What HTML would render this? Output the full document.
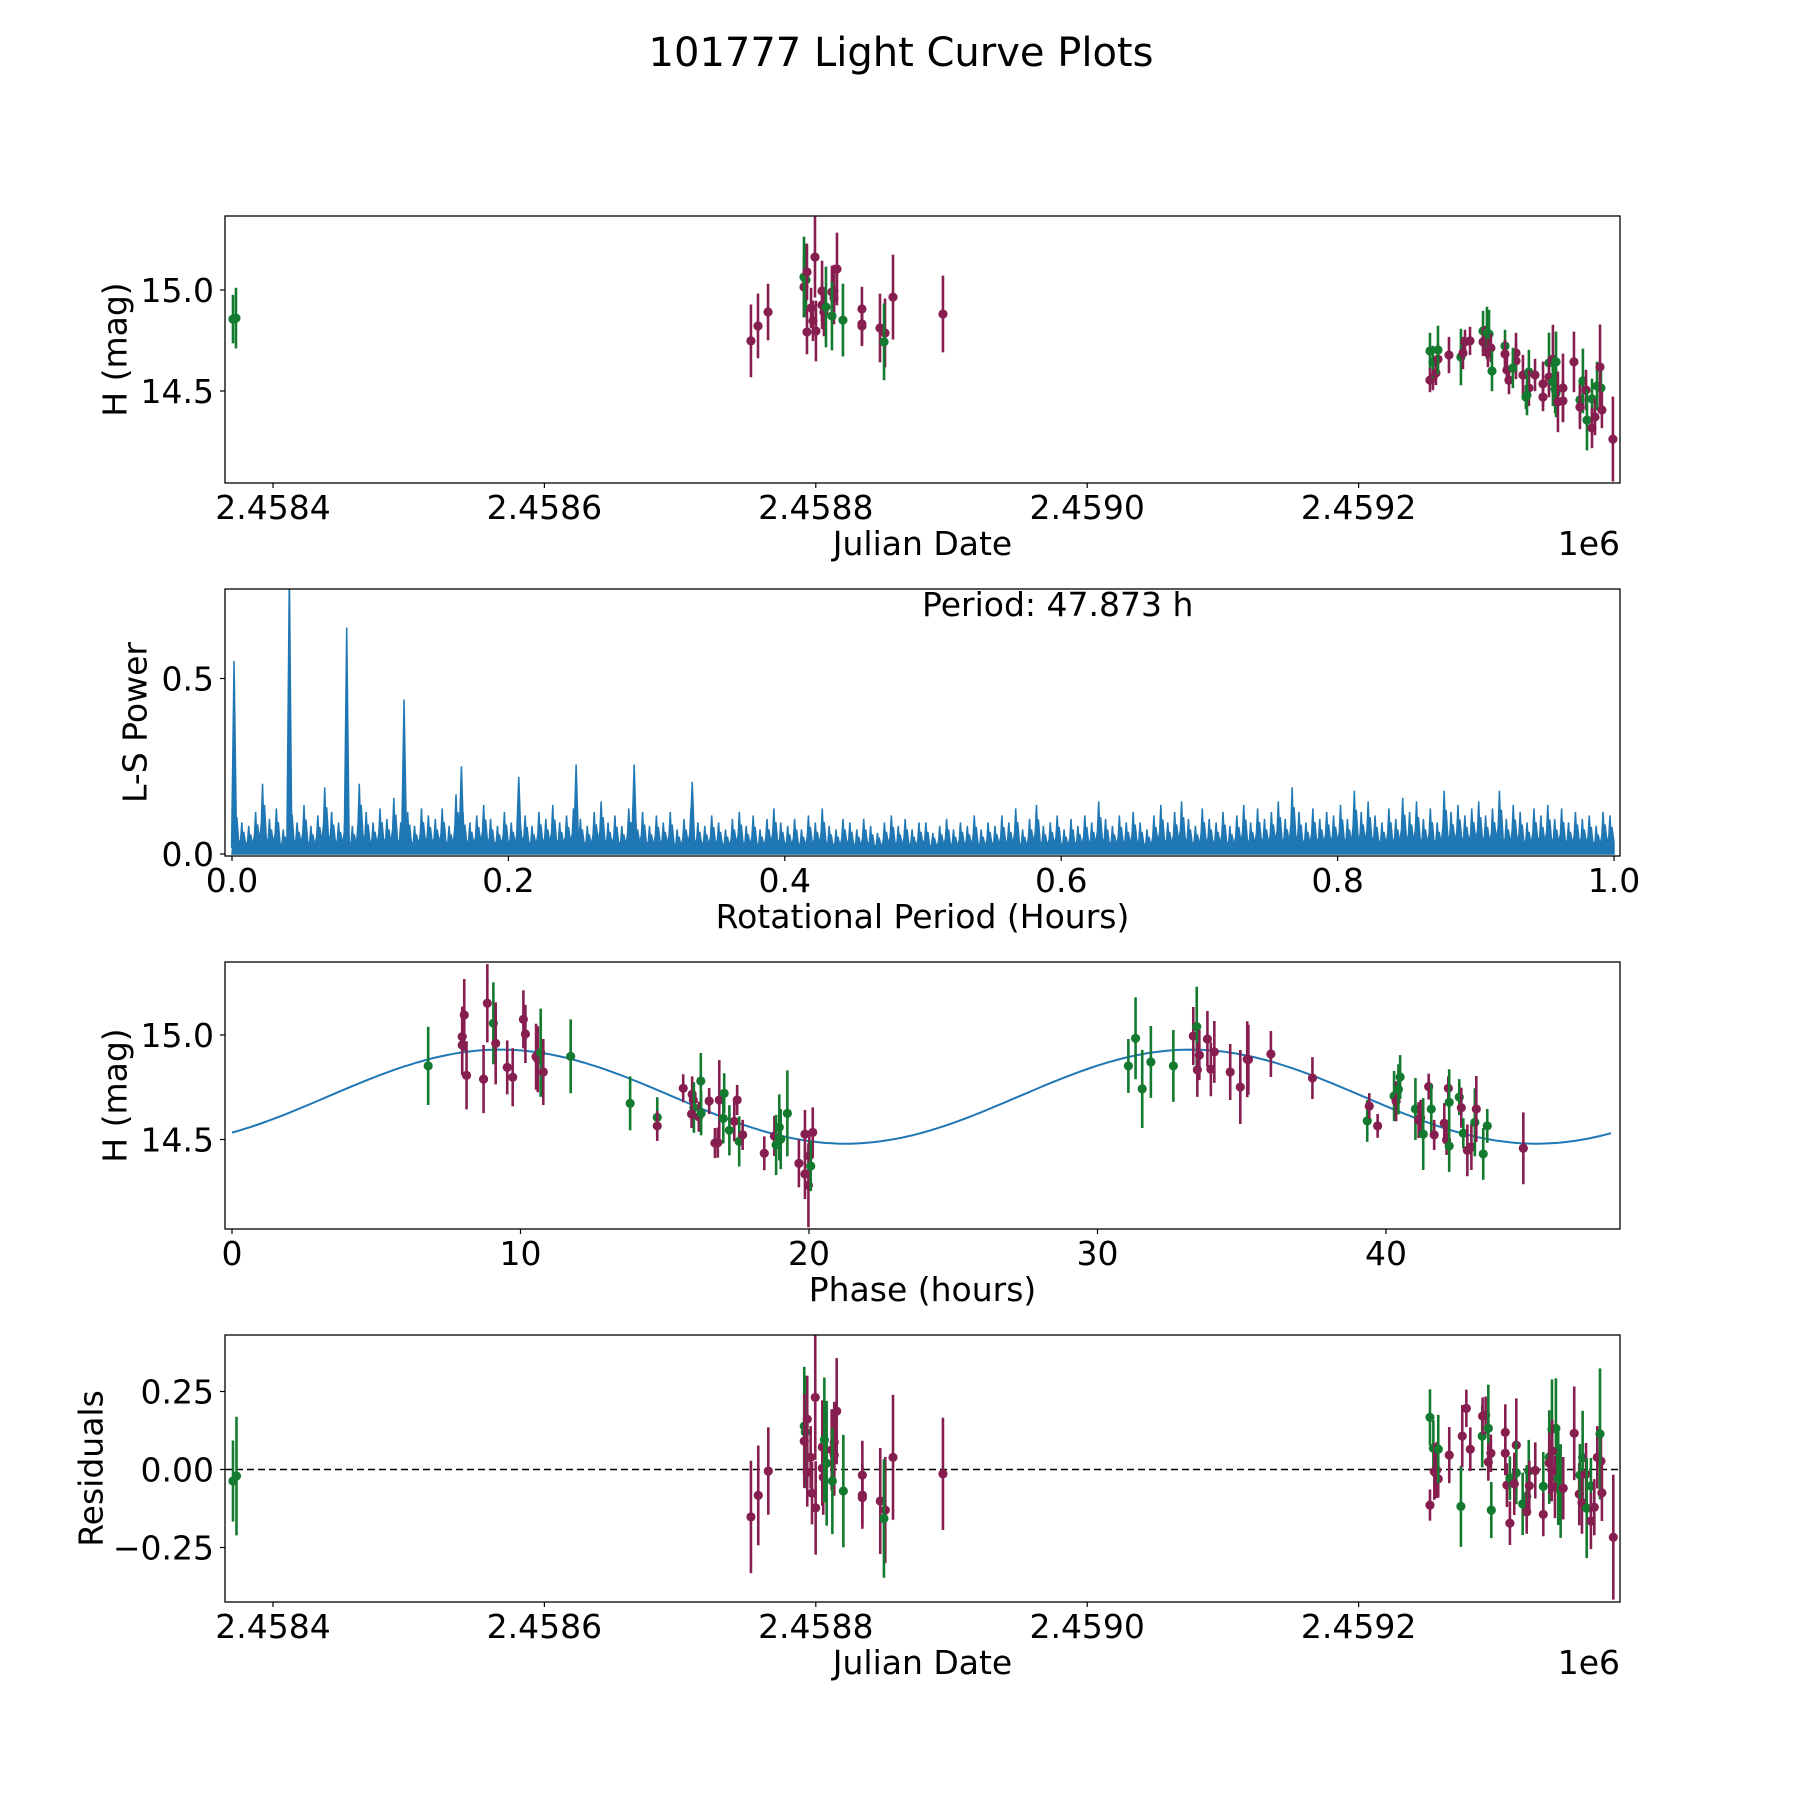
<!DOCTYPE html>
<html><head><meta charset="utf-8"><style>
html,body{margin:0;padding:0;background:#fff;}
svg{display:block;font-family:"DejaVu Sans","Liberation Sans",sans-serif;}
</style></head><body>
<svg id="fig" width="1800" height="1800" viewBox="0 0 1800 1800" xmlns="http://www.w3.org/2000/svg">
<rect width="1800" height="1800" fill="#fff"/>
<text x="901" y="66" font-size="40" text-anchor="middle">101777 Light Curve Plots</text>
</svg>
<script>
// ---------- Panel 1: light curve (JD offset from 2458000) ----------
const lcBand = ['g','g','m','m','m','m','g','g','m','m','m','m','m','m','m','m','m','g','m','m','m','m','g','g','m','m','m','m','m','g','m','m',
'g','m','m','g','m','m','g','m','g','m','m','m','g','m','m','g','g','m','m','g','g','m','m','m','m','m','g','m','g','m','m','g','g','m','m','g','m','g','m','g','g','g','m','m','m','m','g','g','m','m','g','g','m','m','g','g','m','m','m','m','g','m','m'];
const lcJd = [370.5,372.7,752.2,757.4,764.8,791.3,791.3,792.8,793.5,799.4,793.5,796.5,797.9,800.1,804.6,804.6,806.0,807.5,811.9,813.4,813.4,815.6,811.9,820.0,834.0,834.0,834.0,847.3,851.0,850.3,856.9,893.7,
1252.6,1252.6,1254.8,1254.8,1257.0,1258.5,1258.5,1266.6,1275.4,1276.9,1278.4,1282.1,1291.7,1291.7,1293.1,1294.6,1296.1,1295.3,1297.5,1298.3,1307.9,1307.9,1316.0,1316.0,1309.3,1310.8,1313.7,1321.1,1325.5,1330.0,1325.5,1324.1,1323.3,1335.9,1335.9,1340.3,1343.2,1345.5,1340.3,1343.2,1344.8,1345.5,1346.9,1350.6,1350.6,1358.7,1365.3,1363.1,1363.1,1367.6,1368.3,1372.0,1372.0,1374.2,1375.7,1378.6,1377.9,1379.3,1387.4];
const lcMag = [14.856,14.861,14.748,14.822,14.891,15.015,15.064,15.050,15.089,15.163,14.792,14.911,14.847,14.797,14.995,14.926,14.891,14.916,14.990,14.995,14.960,15.104,14.871,14.851,14.906,14.832,14.822,14.812,14.787,14.743,14.965,14.881,
14.698,14.554,14.564,14.644,14.589,14.658,14.703,14.678,14.668,14.688,14.743,14.748,14.797,14.743,14.752,14.787,14.782,14.688,14.713,14.599,14.723,14.683,14.688,14.649,14.604,14.554,14.614,14.579,14.594,14.579,14.515,14.480,14.470,14.535,14.470,14.639,14.658,14.644,14.569,14.545,14.510,14.490,14.446,14.515,14.451,14.644,14.550,14.456,14.421,14.505,14.356,14.461,14.317,14.371,14.525,14.515,14.619,14.406,14.262];
const lcErr = [.12,.15,.18,.16,.14,.15,.20,.18,.14,.20,.11,.10,.10,.15,.15,.12,.12,.20,.13,.13,.13,.18,.17,.18,.11,.10,.10,.17,.17,.19,.21,.19,
.09,.06,.06,.08,.06,.07,.12,.09,.14,.08,.06,.07,.10,.07,.07,.13,.12,.07,.07,.10,.08,.07,.10,.09,.07,.07,.10,.10,.11,.08,.09,.10,.06,.11,.07,.15,.17,.15,.10,.12,.12,.12,.15,.17,.10,.15,.16,.10,.11,.10,.15,.10,.10,.09,.12,.12,.21,.09,.21];
const jdTicks = [400,600,800,1000,1200];
const jdTickLabels = ['2.4584','2.4586','2.4588','2.4590','2.4592'];
const magTicks = [15.0,14.5];
const magTickLabels = ['15.0','14.5'];

// ---------- Panel 2: Lomb-Scargle periodogram ----------
const lsEnvelope = [.15,.09,.08,.12,.20,.10,.13,.07,.16,.09, .14,.08,.11,.19,.12,.09,.14,.08,.20,.12,
.09,.13,.10,.16,.09,.12,.08,.13,.11,.10, .13,.08,.17,.12,.09,.11,.14,.10,.08,.12,
.09,.13,.11,.08,.12,.10,.14,.09,.11,.13, .10,.08,.12,.15,.09,.11,.08,.13,.10,.12,
.08,.11,.09,.12,.07,.10,.13,.09,.08,.11, .09,.07,.10,.12,.08,.11,.07,.10,.13,.09,
.08,.10,.07,.11,.09,.13,.08,.07,.10,.09, .07,.10,.08,.06,.09,.11,.08,.10,.07,.09,
.09,.06,.08,.10,.07,.09,.08,.11,.07,.09, .08,.11,.09,.13,.07,.10,.14,.08,.09,.11,
.07,.10,.08,.11,.09,.15,.10,.08,.11,.09, .12,.09,.07,.11,.14,.09,.12,.15,.10,.08,
.13,.10,.09,.12,.08,.11,.14,.09,.13,.10, .12,.15,.10,.19,.12,.09,.13,.10,.12,.11,
.14,.10,.18,.12,.15,.11,.09,.13,.10,.16, .12,.15,.10,.13,.09,.18,.12,.14,.11,.13,
.15,.11,.13,.18,.10,.14,.12,.09,.13,.11, .14,.10,.13,.09,.12,.10,.11,.08,.12,.11];
const lsPeakFreq = [0.0015,0.0415,0.083,0.1245,0.166,0.2075,0.249,0.291,0.333];
const lsPeakPower = [0.55,0.80,0.645,0.44,0.25,0.22,0.255,0.255,0.205];
const lsTicksX = [0,0.2,0.4,0.6,0.8,1.0];
const lsTickLabelsX = ['0.0','0.2','0.4','0.6','0.8','1.0'];
const lsTicksY = [0,0.5];
const lsTickLabelsY = ['0.0','0.5'];
const periodLabel = 'Period: 47.873 h';

// ---------- Panel 3: phased light curve ----------
const phBand = ['g','m','m','m','m','m','m','g','m','m','m','m','m','m','m','g','m','g','g','g','m','m','m','m','g','g','m','m','g','m','m','g','g','m','m','m','m','g','g','m','m','m','g','g','g','g','m','m','m','m','m','m','g',
'g','g','g','g','g','m','g','m','m','m','m','m','m','m','m','m','m','m','g','m','m','g','m','g','g','g','m','m','g','m','g','m','m','m','g','m','g','g','m','g','m','m','g','m','g','g','m','m','g'];
const phPhase = [6.80,8.05,7.98,7.98,8.13,8.72,8.85,9.06,9.14,9.54,9.73,10.10,10.17,10.54,10.60,10.70,10.79,11.74,13.80,14.74,14.74,15.64,15.95,15.99,16.25,16.01,15.93,16.18,16.26,16.54,16.89,17.06,17.03,16.74,16.84,17.51,17.41,17.24,17.58,17.70,18.45,18.80,18.86,18.97,19.02,19.25,19.65,19.86,20.13,20.01,19.86,19.98,20.06,
31.07,31.32,31.55,31.85,32.63,33.32,33.44,33.46,33.53,33.81,33.93,34.05,34.60,34.95,35.19,35.23,36.01,37.45,39.35,39.42,39.71,40.28,40.35,40.43,40.49,41.02,41.13,41.20,41.29,41.48,41.57,41.67,42.02,42.10,42.19,42.16,42.19,42.54,42.61,42.68,42.82,42.96,43.08,43.13,43.37,43.51,44.76];
const phMag = [14.852,15.096,14.992,14.952,14.807,14.789,15.152,15.056,14.960,14.845,14.798,15.075,15.005,14.896,14.884,14.915,14.823,14.898,14.673,14.606,14.565,14.745,14.716,14.689,14.780,14.652,14.622,14.609,14.625,14.684,14.689,14.721,14.601,14.483,14.485,14.689,14.587,14.544,14.491,14.522,14.434,14.517,14.474,14.558,14.502,14.625,14.386,14.526,14.534,14.421,14.335,14.281,14.373,
14.852,14.984,14.742,14.871,14.852,14.995,15.040,14.833,14.904,14.981,14.836,14.919,14.823,14.751,14.884,14.882,14.909,14.794,14.589,14.660,14.565,14.708,14.683,14.740,14.799,14.646,14.593,14.604,14.526,14.753,14.646,14.522,14.578,14.498,14.469,14.745,14.678,14.703,14.652,14.530,14.448,14.464,14.582,14.646,14.431,14.565,14.458];
const phErr = [.187,.172,.144,.144,.163,.163,.187,.196,.196,.129,.139,.139,.139,.158,.158,.211,.158,.177,.129,.096,.072,.067,.086,.086,.134,.12,.067,.072,.105,.062,.191,.096,.12,.072,.072,.072,.096,.12,.12,.072,.081,.096,.144,.158,.144,.206,.115,.115,.12,.12,.12,.201,.12,
.129,.196,.187,.172,.172,.139,.191,.129,.12,.134,.129,.148,.134,.177,.182,.167,.11,.10,.10,.062,.057,.12,.096,.12,.105,.148,.086,.086,.172,.062,.12,.072,.096,.072,.124,.057,.158,.086,.096,.072,.124,.11,.163,.158,.124,.081,.172];
const fitMean = 14.705, fitAmp = 0.225, fitPeriod = 23.94, fitPeakPhase = 9.3;
const phTicksX = [0,10,20,30,40];
const phTickLabelsX = ['0','10','20','30','40'];

// ---------- Panel 4: residuals ----------
const rsBand = ['g','g','m','m','m','g','g','m','m','m','m','m','m','m','m','m','m','g','g','m','m','m','m','g','g','m','m','m','m','m','g','m','m',
'g','m','g','m','m','m','g','m','g','m','m','m','g','m','m','g','m','m','g','m','m','m','g','m','g','m','m','g','g','m','g','m','m','g','m','g','m','g','g','m','m','m','g','g','m','m','g','m','g','m','m','g','g','m','m','m','m','g','m','m'];
const rsJd = [370.5,373.1,752.2,757.6,765.0,791.5,792.3,791.5,793.7,799.6,793.7,796.2,797.2,799.9,804.8,804.8,805.5,806.3,808.0,811.7,813.6,813.6,815.4,812.2,820.3,834.3,834.3,834.3,847.5,851.2,850.2,856.9,893.7,
1252.6,1252.6,1255.1,1255.8,1257.5,1258.7,1258.7,1266.8,1275.4,1276.4,1279.4,1282.3,1291.1,1291.4,1293.6,1295.6,1297.5,1295.6,1297.8,1308.1,1308.1,1316.2,1316.2,1309.3,1311.5,1311.5,1314.7,1320.9,1323.9,1323.9,1325.4,1325.8,1330.2,1336.1,1336.1,1340.5,1340.5,1342.5,1345.4,1342.7,1342.3,1344.7,1347.1,1348.9,1350.8,1358.9,1365.1,1362.6,1363.1,1364.6,1367.6,1368.1,1371.2,1371.2,1373.7,1375.9,1378.6,1377.9,1379.3,1387.7];
const rsVal = [-0.037,-0.021,-0.152,-0.083,-0.005,0.139,0.120,0.091,0.161,0.231,-0.009,0.039,-0.076,-0.123,0.072,0.004,-0.025,0.095,0.020,0.063,0.087,0.046,0.187,-0.037,-0.069,-0.018,-0.082,-0.090,-0.101,-0.130,-0.157,0.039,-0.014,
0.167,-0.114,0.068,-0.007,-0.002,-0.030,0.065,0.046,-0.118,0.107,0.196,0.065,0.107,0.171,0.174,0.132,0.052,0.024,-0.130,0.119,0.052,0.078,-0.011,-0.050,-0.028,-0.172,-0.046,-0.110,-0.086,-0.136,-0.005,-0.052,-0.003,-0.054,-0.144,0.040,0.021,0.129,0.132,0.059,-0.002,-0.056,-0.028,-0.069,-0.060,0.116,0.038,-0.079,-0.018,-0.106,-0.015,-0.124,-0.053,-0.165,-0.121,0.039,0.027,0.114,-0.075,-0.217];
const rsErr = [.13,.19,.18,.16,.14,.19,.18,.15,.14,.20,.11,.10,.10,.15,.15,.12,.12,.20,.20,.13,.13,.13,.17,.17,.18,.11,.10,.10,.17,.17,.19,.20,.18,
.09,.05,.09,.09,.09,.06,.11,.09,.13,.10,.06,.07,.10,.06,.06,.14,.06,.06,.09,.09,.07,.15,.10,.07,.07,.07,.10,.10,.10,.07,.10,.08,.09,.11,.07,.15,.10,.16,.16,.10,.10,.10,.15,.15,.10,.15,.15,.10,.10,.10,.10,.16,.09,.09,.09,.10,.10,.21,.09,.20];
const rsTicks = [0.25,0,-0.25];
const rsTickLabels = ['0.25','0.00','\u22120.25'];

// ---------- drawing ----------
const NS = 'http://www.w3.org/2000/svg';
const svg = document.getElementById('fig');
const COL = {g:'#137a2f', m:'#861e50'};
function el(tag, attrs, parent){ const e=document.createElementNS(NS,tag); for(const k in attrs) e.setAttribute(k,attrs[k]); (parent||svg).appendChild(e); return e; }
function lin(d0,d1,p0,p1){ return v => p0 + (v-d0)*(p1-p0)/(d1-d0); }

const L=225, R=1620;
const tops=[216,589,962,1335], H=267;

function frame(i, name){
  const g = el('g',{});
  
  
  const cp = el('clipPath',{id:'clip'+i}, g);
  el('rect',{x:L,y:tops[i],width:R-L,height:H}, cp);
  return g;
}
function axesBox(g,i){
  const r = el('rect',{x:L,y:tops[i],width:R-L,height:H,fill:'none',stroke:'#000','stroke-width':1.3}, g);
  
  
}
function xTicks(g,i,ticks,labels,sx){
  const b = tops[i]+H;
  ticks.forEach((t,k)=>{
    const x=sx(t);
    el('line',{x1:x,x2:x,y1:b,y2:b+5,stroke:'#000','stroke-width':1.2}, g);
    const tx = el('text',{x:x,y:b+36,'font-size':33,'text-anchor':'middle'}, g);
    tx.textContent = labels[k];
    
    
  });
}
function yTicks(g,i,ticks,labels,sy){
  ticks.forEach((t,k)=>{
    const y=sy(t);
    el('line',{x1:L-5,x2:L,y1:y,y2:y,stroke:'#000','stroke-width':1.2}, g);
    const tx = el('text',{x:L-11,y:y+12,'font-size':33,'text-anchor':'end'}, g);
    tx.textContent = labels[k];
    
    
  });
}
function xLabel(g,i,txt){
  const t = el('text',{x:(L+R)/2,y:tops[i]+H+72,'font-size':33,'text-anchor':'middle'}, g);
  t.textContent = txt;
  
  
}
function yLabel(g,i,txt,x){
  const cy = tops[i]+H/2;
  const t = el('text',{x:x,y:cy,'font-size':33,'text-anchor':'middle','dominant-baseline':'central',transform:`rotate(-90 ${x} ${cy})`}, g);
  t.textContent = txt;
  
  
}
function offsetText(g,i){
  const t = el('text',{x:R,y:tops[i]+H+72,'font-size':33,'text-anchor':'end'}, g);
  t.textContent = '1e6';
  
  
}
function errPoints(g,i,xs,ys,es,bands,sx,sy){
  const pg = el('g',{'clip-path':`url(#clip${i})`}, g);
  xs.forEach((xv,k)=>{
    const x=sx(xv), y=sy(ys[k]), y1=sy(ys[k]+es[k]), y2=sy(ys[k]-es[k]);
    const c = COL[bands[k]];
    const bar = el('line',{x1:x,x2:x,y1:y1,y2:y2,stroke:c,'stroke-width':2.6}, pg);
    
    
    const dot = el('circle',{cx:x,cy:y,r:4.6,fill:c}, pg);
    
    
  });
}

// Panel 1
(function(){
  const i=0, g=frame(i,'light-curve-panel');
  const sx = lin(400,1200,273,1358.6), sy = lin(15.0,14.5,290,391);
  errPoints(g,i,lcJd,lcMag,lcErr,lcBand,sx,sy);
  axesBox(g,i); xTicks(g,i,jdTicks,jdTickLabels,sx); yTicks(g,i,magTicks,magTickLabels,sy);
  xLabel(g,i,'Julian Date'); yLabel(g,i,'H (mag)',115); offsetText(g,i);
})();

// Panel 2
(function(){
  const i=1, g=frame(i,'periodogram-panel');
  const sx = lin(0,1,232,1614), sy = lin(0,0.5,854,678.5);
  const pg = el('g',{'clip-path':`url(#clip${i})`}, g);
  const n = lsEnvelope.length, w = 1/n;
  let d = `M${sx(0)},${sy(0)}`;
  lsEnvelope.forEach((v,k)=>{
    const xc=(k+0.5)*w;
    const nxt = k+1<n ? lsEnvelope[k+1] : v;
    const valley = Math.min(v,nxt)*0.3;
    d += ` L${sx(xc-w*0.25)},${sy(v*0.45)} L${sx(xc-w*0.08)},${sy(v)} L${sx(xc+w*0.05)},${sy(v*0.55)} L${sx(xc+w*0.2)},${sy(v*0.7)} L${sx((k+1)*w)},${sy(valley)}`;
  });
  d += ` L${sx(1)},${sy(0)} Z`;
  const area = el('path',{d:d,fill:'#1f77b4',stroke:'#1f77b4','stroke-width':1.5,'stroke-linejoin':'miter'}, pg);
  
  
  lsPeakFreq.forEach((f,k)=>{
    const pk = el('path',{d:`M${sx(f)-2.5},${sy(0.02)} L${sx(f)},${sy(lsPeakPower[k])} L${sx(f)+2.5},${sy(0.02)} Z`,fill:'#1f77b4',stroke:'#1f77b4','stroke-width':1.5}, pg);
    
    
  });
  axesBox(g,i); xTicks(g,i,lsTicksX,lsTickLabelsX,sx); yTicks(g,i,lsTicksY,lsTickLabelsY,sy);
  xLabel(g,i,'Rotational Period (Hours)'); yLabel(g,i,'L-S Power',135);
  const pt = el('text',{x:922,y:616,'font-size':33}, g);
  pt.textContent = periodLabel;
  
  
})();

// Panel 3
(function(){
  const i=2, g=frame(i,'phased-curve-panel');
  const sx = lin(0,10,232,520.5), sy = lin(15.0,14.5,1035,1139.5);
  const pg = el('g',{'clip-path':`url(#clip${i})`}, g);
  let d='';
  for(let p=0;p<=47.873;p+=0.2){
    const v = fitMean + fitAmp*Math.cos(2*Math.PI*(p-fitPeakPhase)/fitPeriod);
    d += (d?' L':'M') + sx(p).toFixed(1)+','+sy(v).toFixed(1);
  }
  const curve = el('path',{d:d,fill:'none',stroke:'#1f77b4','stroke-width':2}, pg);
  
  
  errPoints(g,i,phPhase,phMag,phErr,phBand,sx,sy);
  axesBox(g,i); xTicks(g,i,phTicksX,phTickLabelsX,sx); yTicks(g,i,magTicks,magTickLabels,sy);
  xLabel(g,i,'Phase (hours)'); yLabel(g,i,'H (mag)',115);
})();

// Panel 4
(function(){
  const i=3, g=frame(i,'residuals-panel');
  const sx = lin(400,1200,273,1358.6), sy = lin(0,0.25,1469.5,1391.5);
  const zl = el('line',{x1:L,x2:R,y1:sy(0),y2:sy(0),stroke:'#000','stroke-width':1.6,'stroke-dasharray':'7,4'}, g);
  
  
  errPoints(g,i,rsJd,rsVal,rsErr,rsBand,sx,sy);
  axesBox(g,i); xTicks(g,i,jdTicks,jdTickLabels,sx); yTicks(g,i,rsTicks,rsTickLabels,sy);
  xLabel(g,i,'Julian Date'); yLabel(g,i,'Residuals',91); offsetText(g,i);
})();
</script>
</body></html>
